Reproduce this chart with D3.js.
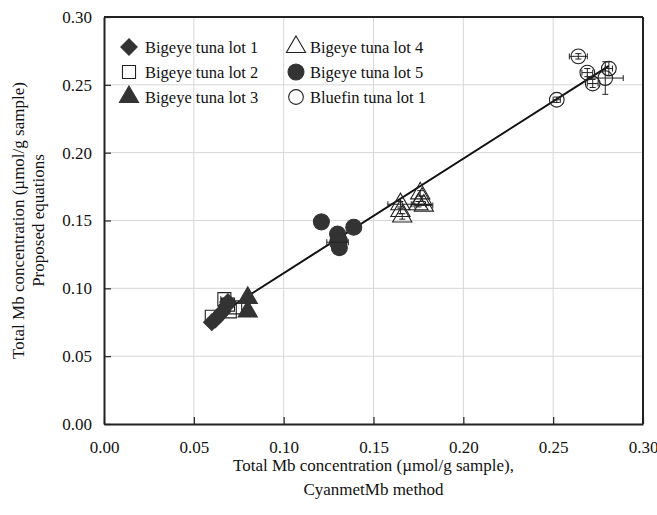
<!DOCTYPE html>
<html>
<head>
<meta charset="utf-8">
<script src="https://cdn.jsdelivr.net/npm/d3@7"></script>
<style>
body { margin: 0; background: #fff; }
</style>
</head>
<body>
<div id="graph"></div>
<script>
// tick values
const xTicks = [0, 0.05, 0.10, 0.15, 0.20, 0.25, 0.30];
const yTicks = [0, 0.05, 0.10, 0.15, 0.20, 0.25, 0.30];

// each point: [x, y, xErr, yErr]
const lot1 = [[0.060, 0.075, 0, 0], [0.062, 0.077, 0, 0], [0.064, 0.080, 0, 0], [0.066, 0.083, 0, 0], [0.068, 0.087, 0, 0], [0.069, 0.090, 0, 0]];
const lot2 = [[0.060, 0.079, 0, 0], [0.067, 0.092, 0.002, 0], [0.069, 0.088, 0, 0], [0.073, 0.086, 0, 0], [0.070, 0.083, 0, 0]];
const lot3 = [[0.080, 0.093, 0, 0], [0.080, 0.083, 0, 0]];
const lot4 = [[0.165, 0.162, 0.007, 0.002], [0.165, 0.157, 0, 0.002], [0.166, 0.153, 0, 0.002], [0.176, 0.170, 0, 0.002], [0.177, 0.166, 0, 0.002], [0.175, 0.162, 0.004, 0.002], [0.178, 0.161, 0.005, 0]];
const lot5 = [[0.121, 0.149, 0, 0], [0.139, 0.145, 0, 0], [0.130, 0.140, 0, 0], [0.131, 0.135, 0, 0], [0.131, 0.130, 0, 0], [0.130, 0.134, 0.006, 0]];
const bluefin = [[0.252, 0.239, 0.002, 0.002], [0.264, 0.271, 0.005, 0.002], [0.269, 0.259, 0.003, 0.003], [0.272, 0.251, 0.003, 0.003], [0.279, 0.255, 0.010, 0.012], [0.281, 0.262, 0.002, 0.005]];

// regression line ends
const fitX = [0.058, 0.281];
const fitY = [0.0757, 0.2640];

const names = ["Bigeye tuna lot 1", "Bigeye tuna lot 2", "Bigeye tuna lot 3", "Bigeye tuna lot 4", "Bigeye tuna lot 5", "Bluefin tuna lot 1"];

const serif = "'Liberation Serif', 'DejaVu Serif', serif";
const w = 657, h = 515;
const m = {left: 104, right: 14, top: 17, bottom: 91};

const svg = d3.select("#graph").append("svg")
  .attr("width", w).attr("height", h);

const x = d3.scaleLinear().domain([0, 0.30]).range([m.left, w - m.right]);
const y = d3.scaleLinear().domain([0, 0.30]).range([h - m.bottom, m.top]);

// grid
svg.append("g").selectAll("line.gx").data(xTicks.slice(1, -1)).enter().append("line")
  .attr("x1", d => x(d)).attr("x2", d => x(d))
  .attr("y1", y(0)).attr("y2", y(0.30))
  .attr("stroke", "#d6d6d6").attr("stroke-width", 1);
svg.append("g").selectAll("line.gy").data(yTicks.slice(1, -1)).enter().append("line")
  .attr("x1", x(0)).attr("x2", x(0.30))
  .attr("y1", d => y(d)).attr("y2", d => y(d))
  .attr("stroke", "#d6d6d6").attr("stroke-width", 1);

// axes (ticks pointing inward)
const xAxis = d3.axisBottom(x).tickValues(xTicks).tickFormat(d3.format(".2f")).tickSizeInner(-7).tickSizeOuter(0).tickPadding(17);
const yAxis = d3.axisLeft(y).tickValues(yTicks).tickFormat(d3.format(".2f")).tickSizeInner(-7).tickSizeOuter(0).tickPadding(12);

const gx = svg.append("g").attr("transform", "translate(0," + y(0) + ")").call(xAxis);
const gy = svg.append("g").attr("transform", "translate(" + x(0) + ",0)").call(yAxis);
[gx, gy].forEach(g => {
  g.select(".domain").attr("stroke", "#222").attr("stroke-width", 2);
  g.selectAll(".tick line").attr("stroke", "#222").attr("stroke-width", 1.2);
  g.selectAll(".tick text").style("font-family", serif).style("font-size", "17px").attr("fill", "#111");
});

// top and right frame
svg.append("line").attr("x1", x(0)).attr("x2", x(0.30)).attr("y1", y(0.30)).attr("y2", y(0.30))
  .attr("stroke", "#222").attr("stroke-width", 2);
svg.append("line").attr("x1", x(0.30)).attr("x2", x(0.30)).attr("y1", y(0.30)).attr("y2", y(0))
  .attr("stroke", "#222").attr("stroke-width", 2);

// fit line
svg.append("line")
  .attr("x1", x(fitX[0])).attr("y1", y(fitY[0]))
  .attr("x2", x(fitX[1])).attr("y2", y(fitY[1]))
  .attr("stroke", "#111").attr("stroke-width", 2);

// marker styles
const dark = "#333";
const styles = [
  {type: d3.symbolSquare, size: 135, rot: 45, fill: dark, stroke: dark},
  {type: d3.symbolSquare, size: 170, rot: 0, fill: "none", stroke: "#222"},
  {type: d3.symbolTriangle, size: 160, rot: 0, fill: dark, stroke: dark},
  {type: d3.symbolTriangle, size: 160, rot: 0, fill: "none", stroke: "#222"},
  {type: d3.symbolCircle, size: 200, rot: 0, fill: dark, stroke: dark},
  {type: d3.symbolCircle, size: 170, rot: 0, fill: "none", stroke: "#222"}
];

function errBars(g, data) {
  const cap = 3;
  data.forEach(p => {
    if (p[2] > 0) {
      g.append("line").attr("x1", x(p[0] - p[2])).attr("x2", x(p[0] + p[2]))
        .attr("y1", y(p[1])).attr("y2", y(p[1])).attr("stroke", "#222").attr("stroke-width", 1);
      [p[0] - p[2], p[0] + p[2]].forEach(v => g.append("line")
        .attr("x1", x(v)).attr("x2", x(v)).attr("y1", y(p[1]) - cap).attr("y2", y(p[1]) + cap)
        .attr("stroke", "#222").attr("stroke-width", 1));
    }
    if (p[3] > 0) {
      g.append("line").attr("x1", x(p[0])).attr("x2", x(p[0]))
        .attr("y1", y(p[1] - p[3])).attr("y2", y(p[1] + p[3])).attr("stroke", "#222").attr("stroke-width", 1);
      [p[1] - p[3], p[1] + p[3]].forEach(v => g.append("line")
        .attr("x1", x(p[0]) - cap).attr("x2", x(p[0]) + cap).attr("y1", y(v)).attr("y2", y(v))
        .attr("stroke", "#222").attr("stroke-width", 1));
    }
  });
}

function drawSeries(data, s) {
  const g = svg.append("g");
  g.selectAll("path").data(data).enter().append("path")
    .attr("d", d3.symbol().type(s.type).size(s.size))
    .attr("transform", d => "translate(" + x(d[0]) + "," + y(d[1]) + ") rotate(" + s.rot + ")")
    .attr("fill", s.fill).attr("stroke", s.stroke).attr("stroke-width", 1.1);
  errBars(g, data);
}

const allSeries = [lot2, lot1, lot3, lot4, lot5, bluefin];
const styleOrder = [1, 0, 2, 3, 4, 5];
allSeries.forEach((d, i) => drawSeries(d, styles[styleOrder[i]]));

// legend
const legX = [129, 296];
const legY = [47, 72, 97];
const legGap = [16, 14];
names.forEach((n, i) => {
  const col = Math.floor(i / 3);
  const cx = legX[col], cy = legY[i % 3];
  const s = styles[i];
  svg.append("path")
    .attr("d", d3.symbol().type(s.type).size(s.size))
    .attr("transform", "translate(" + cx + "," + cy + ") rotate(" + s.rot + ")")
    .attr("fill", s.fill).attr("stroke", s.stroke).attr("stroke-width", 1.1);
  svg.append("text").attr("x", cx + legGap[col]).attr("y", cy + 5.5)
    .style("font-family", serif).style("font-size", "16.5px").attr("fill", "#111").text(n);
});

// axis titles
const cxT = (x(0) + x(0.30)) / 2;
function title(tr, txt) {
  svg.append("text").attr("transform", tr).attr("text-anchor", "middle")
    .style("font-family", serif).style("font-size", "17px").attr("fill", "#111").text(txt);
}
title("translate(" + cxT + ",471)", "Total Mb concentration (\u00b5mol/g sample),");
title("translate(" + cxT + ",495)", "CyanmetMb method");

const cyT = (y(0) + y(0.30)) / 2;
title("translate(24," + cyT + ") rotate(-90)", "Total Mb concentration (\u00b5mol/g sample)");
title("translate(44," + cyT + ") rotate(-90)", "Proposed equations");
</script>
</body>
</html>
